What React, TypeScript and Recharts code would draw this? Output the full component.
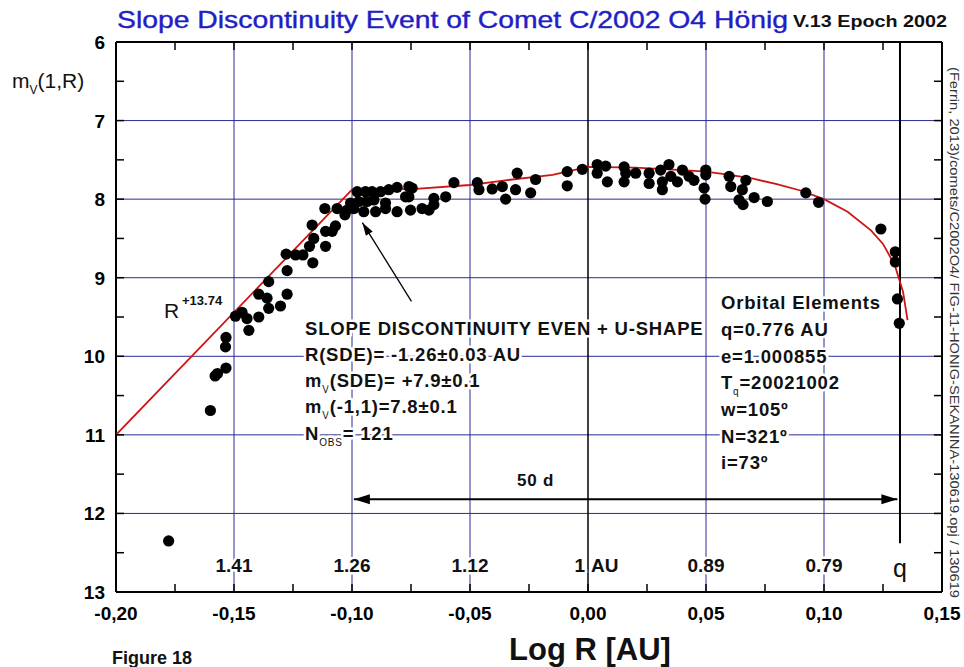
import React from "react";
import { ComposedChart, Scatter, XAxis, YAxis, ReferenceLine } from "recharts";

// observed magnitudes: log R (x) vs m_V(1,R) (y)
const obsX = [
  -0.1777, -0.16, -0.158, -0.157, -0.1534, -0.1536, -0.1534, -0.1494, -0.1466, -0.1445,
  -0.1437, -0.1395, -0.1395, -0.136, -0.1353, -0.1353, -0.1303, -0.1275, -0.1275, -0.1279,
  -0.1239, -0.1208, -0.1166, -0.118, -0.1162, -0.1112, -0.1169, -0.1112, -0.1084, -0.107,
  -0.1115, -0.1063, -0.103, -0.1021, -0.1006,
  -0.0978, -0.0943, -0.0915, -0.0879, -0.0844, -0.0809, -0.0759, -0.0745,
  -0.0971, -0.0936, -0.0907, -0.0858, -0.0773, -0.0759,
  -0.0992, -0.095, -0.09, -0.0858, -0.0809, -0.0752, -0.0703, -0.0674, -0.0653, -0.0653, -0.0603,
  -0.0568,
  -0.0469, -0.0462, -0.0406, -0.0363, -0.0349, -0.0307, -0.03, -0.0243, -0.0222,
  -0.0088, -0.0088, -0.0024,
  0.0039, 0.0039, 0.0075, 0.0082,
  0.0153, 0.0153, 0.016, 0.0202, 0.0259, 0.0259, 0.0308, 0.0315, 0.0315, 0.0343,
  0.0351, 0.0379, 0.04, 0.0428, 0.0449, 0.0499, 0.0499, 0.0492, 0.0496, 0.0598,
  0.0605, 0.0669, 0.0654, 0.064, 0.0657, 0.0704, 0.076, 0.0923, 0.0977, 0.1241,
  0.1302, 0.1302, 0.1311, 0.1319,
];
const obsY = [
  12.35, 10.69, 10.25, 10.22, 10.15, 9.88, 9.76, 9.49, 9.44, 9.52,
  9.67, 9.5, 9.21, 9.26, 9.39, 9.05, 9.36, 9.21, 8.91, 8.7,
  8.71, 8.71, 8.81, 8.6, 8.5, 8.6, 8.33, 8.41, 8.41, 8.34,
  8.12, 8.12, 8.2, 8.14, 8.05,
  7.905, 7.905, 7.905, 7.905, 7.88, 7.85, 7.84, 7.86,
  8.03, 8.03, 8.01, 8.05, 7.97, 7.97,
  8.12, 8.16, 8.16, 8.12, 8.16, 8.14, 8.12, 8.14, 8.07, 7.99, 7.97,
  7.79,
  7.79, 7.88, 7.87, 7.84, 8.0, 7.88, 7.67, 7.92, 7.75,
  7.65, 7.83, 7.62,
  7.56, 7.67, 7.58, 7.78,
  7.59, 7.78, 7.67, 7.67, 7.67, 7.8, 7.63, 7.78, 7.88, 7.56,
  7.71, 7.78, 7.63, 7.71, 7.76, 7.63, 7.69, 7.86, 8.0, 7.71,
  7.84, 7.76, 7.88, 8.01, 8.07, 7.98, 8.03, 7.92, 8.04, 8.38,
  8.67, 8.8, 9.27, 9.58,
];

// fitted envelope (red)
const modelX = [-0.2, -0.1, -0.073, -0.05, -0.035, -0.015, 0.0, 0.02, 0.04, 0.05, 0.06, 0.07, 0.08, 0.09, 0.1, 0.11, 0.12, 0.125, 0.13, 0.1335, 0.1354];
const modelY = [11.0, 7.88, 7.87, 7.82, 7.76, 7.69, 7.59, 7.6, 7.63, 7.65, 7.69, 7.74, 7.81, 7.89, 8.0, 8.16, 8.4, 8.57, 8.84, 9.18, 9.54];

const xTicks = [-0.2, -0.175, -0.15, -0.125, -0.1, -0.075, -0.05, -0.025, 0, 0.025, 0.05, 0.075, 0.1, 0.125, 0.15];
const yTicks = [6, 6.5, 7, 7.5, 8, 8.5, 9, 9.5, 10, 10.5, 11, 11.5, 12, 12.5, 13];
const gridX = [-0.15, -0.1, -0.05, 0.05, 0.1];
const gridY = [7, 8, 9, 10, 11, 12];
const distX = [-0.15, -0.1, -0.05, 0.05, 0.1];
const distLabels = ["1.41", "1.26", "1.12", "0.89", "0.79"];
const qX = 0.1322;
const sdeArrow = [{ x: -0.0748, y: 9.3 }, { x: -0.0956, y: 8.3 }];
const spanArrow = [{ x: -0.0992, y: 11.82 }, { x: 0.1311, y: 11.82 }];

const obsData = obsX.map((x, i) => ({ x, y: obsY[i] }));
const modelData = modelX.map((x, i) => ({ x, y: modelY[i] }));

const W = 964;
const H = 667;
const L = 116, R = 942, T = 42, B = 592;
const sx = (v: number) => L + ((v + 0.2) / 0.35) * (R - L);
const sy = (v: number) => T + ((v - 6) / 7) * (B - T);

const NARROW = "'Liberation Sans Narrow', 'Arial Narrow', 'Liberation Sans', Arial, sans-serif";
const SANS = "'Liberation Sans', Arial, sans-serif";
const GRID = "#2a2a96";

const isMajor = (v: number, step: number) => Math.abs(Math.round(v / step) * step - v) < 1e-6;

const BottomTick = (p: any) => {
  const v = p.payload.value;
  return (
    <g>
      <line x1={p.x} y1={p.y} x2={p.x} y2={p.y - 8} stroke="#000" strokeWidth={1.5} />
      {isMajor(v, 0.05) && (
        <text x={p.x} y={p.y + 28} textAnchor="middle" fontFamily={NARROW} fontWeight="bold" fontSize={19} fill="#000">
          {v.toFixed(2).replace(".", ",")}
        </text>
      )}
    </g>
  );
};

const TopTick = (p: any) => (
  <line x1={p.x} y1={p.y} x2={p.x} y2={p.y + 8} stroke="#000" strokeWidth={1.5} />
);

const LeftTick = (p: any) => {
  const v = p.payload.value;
  return (
    <g>
      <line x1={p.x} y1={p.y} x2={p.x + 8} y2={p.y} stroke="#000" strokeWidth={1.5} />
      {isMajor(v, 1) && (
        <text x={p.x - 11} y={p.y + 7} textAnchor="end" fontFamily={NARROW} fontWeight="bold" fontSize={19} fill="#000">
          {v}
        </text>
      )}
    </g>
  );
};

const RightTick = (p: any) => (
  <line x1={p.x} y1={p.y} x2={p.x - 8} y2={p.y} stroke="#000" strokeWidth={1.5} />
);

const head = (x1: number, y1: number, x2: number, y2: number, len: number, half: number) => {
  const a = Math.atan2(y2 - y1, x2 - x1);
  const bx = x2 - len * Math.cos(a);
  const by = y2 - len * Math.sin(a);
  const px = -Math.sin(a) * half;
  const py = Math.cos(a) * half;
  return `${x2},${y2} ${bx + px},${by + py} ${bx - px},${by - py}`;
};

const SingleArrow = (p: any) => (
  <g>
    <line x1={p.x1} y1={p.y1} x2={p.x2} y2={p.y2} stroke="#000" strokeWidth={1.3} />
    <polygon points={head(p.x1, p.y1, p.x2, p.y2, 13, 4)} fill="#000" />
  </g>
);

const DoubleArrow = (p: any) => (
  <g>
    <line x1={p.x1} y1={p.y1} x2={p.x2} y2={p.y2} stroke="#000" strokeWidth={2} />
    <polygon points={head(p.x1, p.y1, p.x2, p.y2, 16, 5)} fill="#000" />
    <polygon points={head(p.x2, p.y2, p.x1, p.y1, 16, 5)} fill="#000" />
  </g>
);

const Dot = (p: any) => <circle cx={p.cx} cy={p.cy} r={5.6} fill="#000" />;
const NoDot = () => <g />;

const halo = { stroke: "#fff", strokeWidth: 5, paintOrder: "stroke" as const, strokeLinejoin: "round" as const };
const annot = { fontFamily: SANS, fontWeight: "bold" as const, fontSize: 18.5, letterSpacing: 0.8, fill: "#111", ...halo };

const Overlay = () => (
  <svg width={W} height={H} style={{ position: "absolute", left: 0, top: 0, pointerEvents: "none" }}>
    <text x={117} y={28} fontFamily={SANS} fontSize={24} fill="#1f1fc4" stroke="#1f1fc4" strokeWidth={0.4} textLength={671} lengthAdjust="spacingAndGlyphs">
      Slope Discontinuity Event of Comet C/2002 O4 Hönig
    </text>
    <text x={793} y={27} fontFamily={NARROW} fontWeight="bold" fontSize={17} fill="#111" textLength={154} lengthAdjust="spacingAndGlyphs">
      V.13 Epoch 2002
    </text>

    <text x={12} y={88} fontFamily={SANS} fontSize={21} fill="#111">
      m<tspan fontSize={12} dy={6}>V</tspan>
      <tspan dy={-6}>(1,R)</tspan>
    </text>

    <text x={164} y={318} fontFamily={SANS} fontSize={21} fill="#111">R</text>
    <text x={182} y={305} fontFamily={SANS} fontWeight="bold" fontSize={13} fill="#111">+13.74</text>

    <g {...annot}>
      <text x={305} y={335}>SLOPE DISCONTINUITY EVEN + U-SHAPE</text>
      <text x={305} y={361}>R(SDE)= -1.26±0.03 AU</text>
      <text x={305} y={387}>m<tspan fontSize={10} fontWeight="normal" dy={6}>V</tspan><tspan dy={-6}>(SDE)= +7.9±0.1</tspan></text>
      <text x={305} y={413}>m<tspan fontSize={10} fontWeight="normal" dy={6}>V</tspan><tspan dy={-6}>(-1,1)=7.8±0.1</tspan></text>
      <text x={305} y={440}>N<tspan fontSize={10} fontWeight="normal" dy={6}>OBS</tspan><tspan dy={-6}>= 121</tspan></text>

      <text x={721} y={309}>Orbital Elements</text>
      <text x={721} y={336}>q=0.776 AU</text>
      <text x={721} y={363}>e=1.000855</text>
      <text x={721} y={389}>T<tspan fontSize={10} fontWeight="normal" dy={6}>q</tspan><tspan dy={-6}>=20021002</tspan></text>
      <text x={721} y={416}>w=105º</text>
      <text x={721} y={443}>N=321º</text>
      <text x={721} y={469}>i=73º</text>

      <text x={517} y={486} fontSize={17}>50 d</text>
    </g>

    <g fontFamily={NARROW} fontWeight="bold" fontSize={19} fill="#111" {...halo}>
      {distX.map((v, i) => (
        <text key={distLabels[i]} x={sx(v)} y={sy(12.65) + 7} textAnchor="middle">{distLabels[i]}</text>
      ))}
      <text x={sx(0) - 3} y={sy(12.65) + 7} textAnchor="end">1</text>
      <text x={sx(0) + 3} y={sy(12.65) + 7}>AU</text>
      <text x={sx(qX)} y={sy(12.7) + 9} textAnchor="middle" fontSize={25} fontWeight="normal">q</text>
    </g>

    <text x={590} y={660} textAnchor="middle" fontFamily={NARROW} fontWeight="bold" fontSize={31} fill="#111">Log R [AU]</text>
    <text x={112} y={664} fontFamily={NARROW} fontWeight="bold" fontSize={18} fill="#111">Figure 18</text>

    <text transform="translate(950, 67) rotate(90)" fontFamily={SANS} fontSize={13.5} fill="#333" textLength={531} lengthAdjust="spacingAndGlyphs">
      (Ferrin, 2013)/comets/C2002O4/ FIG-11-HONIG-SEKANINA-130619.opj / 130619
    </text>
  </svg>
);

export default function App() {
  return (
    <div style={{ position: "absolute", left: 0, top: 0, width: W, height: H, background: "#fff" }}>
      <ComposedChart width={W} height={H} margin={{ top: 32, right: 0, bottom: 0, left: 0 }}>
        <XAxis
          type="number"
          dataKey="x"
          domain={[-0.2, 0.15]}
          ticks={xTicks}
          interval={0}
          height={75}
          tickSize={0}
          tickMargin={0}
          tick={BottomTick}
          axisLine={{ stroke: "#000", strokeWidth: 2 }}
          allowDataOverflow
        />
        <XAxis
          xAxisId="t"
          orientation="top"
          type="number"
          dataKey="x"
          domain={[-0.2, 0.15]}
          ticks={xTicks}
          interval={0}
          height={10}
          tickSize={0}
          tickMargin={0}
          tick={TopTick}
          axisLine={{ stroke: "#000", strokeWidth: 2 }}
          allowDataOverflow
        />
        <YAxis
          type="number"
          dataKey="y"
          domain={[6, 13]}
          reversed
          ticks={yTicks}
          interval={0}
          width={116}
          tickSize={0}
          tickMargin={0}
          tick={LeftTick}
          axisLine={{ stroke: "#000", strokeWidth: 2 }}
          allowDataOverflow
        />
        <YAxis
          yAxisId="r"
          orientation="right"
          type="number"
          dataKey="y"
          domain={[6, 13]}
          reversed
          ticks={yTicks}
          interval={0}
          width={22}
          tickSize={0}
          tickMargin={0}
          tick={RightTick}
          axisLine={{ stroke: "#000", strokeWidth: 2 }}
          allowDataOverflow
        />

        {gridX.map((v) => (
          <ReferenceLine key={"gx" + v} x={v} stroke={GRID} strokeWidth={1} />
        ))}
        {gridY.map((v) => (
          <ReferenceLine key={"gy" + v} y={v} stroke={GRID} strokeWidth={1} />
        ))}
        <ReferenceLine x={0} stroke="#000" strokeWidth={1.5} />
        <ReferenceLine segment={[{ x: qX, y: 6 }, { x: qX, y: 12.38 }]} stroke="#000" strokeWidth={2} />

        <Scatter data={modelData} line={{ stroke: "#d01414", strokeWidth: 1.8 }} shape={NoDot} isAnimationActive={false} />
        <Scatter data={obsData} shape={Dot} isAnimationActive={false} />

        <ReferenceLine segment={sdeArrow} shape={SingleArrow} />
        <ReferenceLine segment={spanArrow} shape={DoubleArrow} />
      </ComposedChart>
      <Overlay />
    </div>
  );
}
